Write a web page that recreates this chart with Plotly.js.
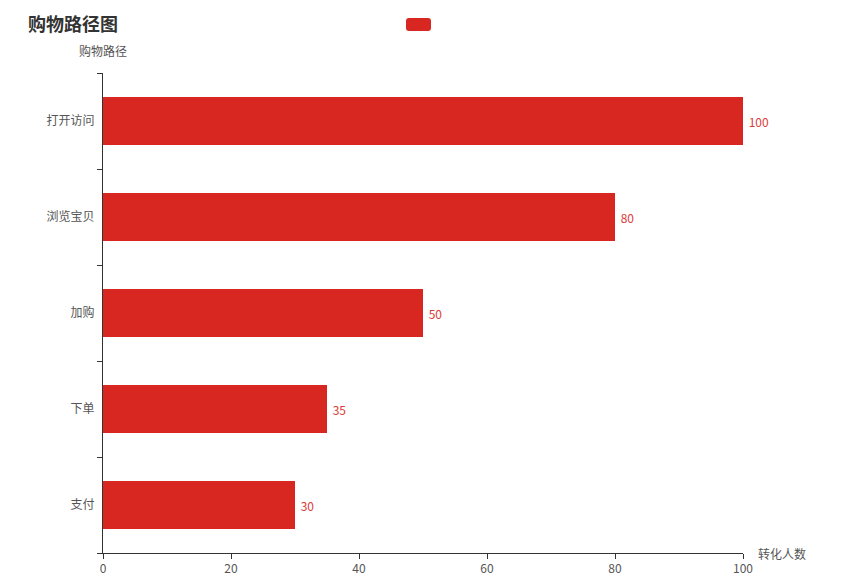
<!DOCTYPE html>
<html>
<head>
<meta charset="utf-8">
<script src="https://cdn.plot.ly/plotly-3.0.1.min.js"></script>
<style>html,body{margin:0;padding:0;background:#fff;}#chart{width:849px;height:580px;}</style>
</head>
<body>
<div id="chart"></div>
<script>
const categories = ["支付", "下单", "加购", "浏览宝贝", "打开访问"];
const values = [30, 35, 50, 80, 100];
const xTicks = [0, 20, 40, 60, 80, 100];

const FONT = '"Noto Sans CJK SC", "Noto Sans", sans-serif';
const RED = '#d82621';

const trace = {
  type: 'bar',
  orientation: 'h',
  y: categories,
  x: values,
  width: 0.5,
  marker: {color: RED},
  text: values.map(v => ' ' + v),
  textposition: 'outside',
  textfont: {color: '#dc3a36', size: 12, family: FONT},
  cliponaxis: false,
  hoverinfo: 'none',
  showlegend: false
};

const layout = {
  width: 849, height: 580,
  margin: {l: 103, r: 106, t: 73, b: 27},
  paper_bgcolor: '#fff', plot_bgcolor: '#fff',
  font: {family: FONT, size: 12, color: '#333'},
  showlegend: false,
  title: {text: '<b>购物路径图</b>', x: 28/849, xanchor: 'left', y: 1 - 25/580, yanchor: 'middle', font: {size: 18, color: '#333', family: FONT}},
  xaxis: {
    range: [0, 100], tickvals: xTicks, ticktext: xTicks.map(String),
    showgrid: false, zeroline: false, showline: true, linecolor: '#333', linewidth: 1,
    ticks: 'outside', ticklen: 5, tickcolor: '#333', tickfont: {size: 12, color: '#555'},
    fixedrange: true
  },
  yaxis: {
    type: 'category', categoryorder: 'array', categoryarray: categories,
    range: [-0.5, 4.5], tickson: 'boundaries',
    showgrid: false, zeroline: false, showline: true, linecolor: '#333', linewidth: 1,
    ticks: 'outside', ticklen: 5, tickcolor: '#333', tickfont: {size: 12, color: '#555'},
    ticklabelstandoff: 5,
    fixedrange: true
  },
  annotations: [
    {text: '购物路径', xref: 'paper', yref: 'paper', x: 0, y: 1, xanchor: 'center', yanchor: 'bottom', yshift: 12, showarrow: false, font: {size: 12, color: '#555', family: FONT}},
    {text: '转化人数', xref: 'paper', yref: 'paper', x: 1, y: 0, xanchor: 'left', yanchor: 'middle', xshift: 13, showarrow: false, font: {size: 12, color: '#555', family: FONT}}
  ],
  shapes: [
    {type: 'path', xref: 'paper', yref: 'paper', fillcolor: RED, line: {width: 0},
     path: (function(){
       const W = 640, H = 480, ox = 103, oy = 73;
       const px = v => ((v - ox) / W).toFixed(5);
       const py = v => (1 - (v - oy) / H).toFixed(5);
       const x0 = 406, x1 = 431, y0 = 18, y1 = 31, r = 3;
       return `M ${px(x0+r)},${py(y0)} L ${px(x1-r)},${py(y0)} Q ${px(x1)},${py(y0)} ${px(x1)},${py(y0+r)} L ${px(x1)},${py(y1-r)} Q ${px(x1)},${py(y1)} ${px(x1-r)},${py(y1)} L ${px(x0+r)},${py(y1)} Q ${px(x0)},${py(y1)} ${px(x0)},${py(y1-r)} L ${px(x0)},${py(y0+r)} Q ${px(x0)},${py(y0)} ${px(x0+r)},${py(y0)} Z`;
     })()}
  ]
};

Plotly.newPlot('chart', [trace], layout, {displayModeBar: false, staticPlot: true});
</script>
</body>
</html>
